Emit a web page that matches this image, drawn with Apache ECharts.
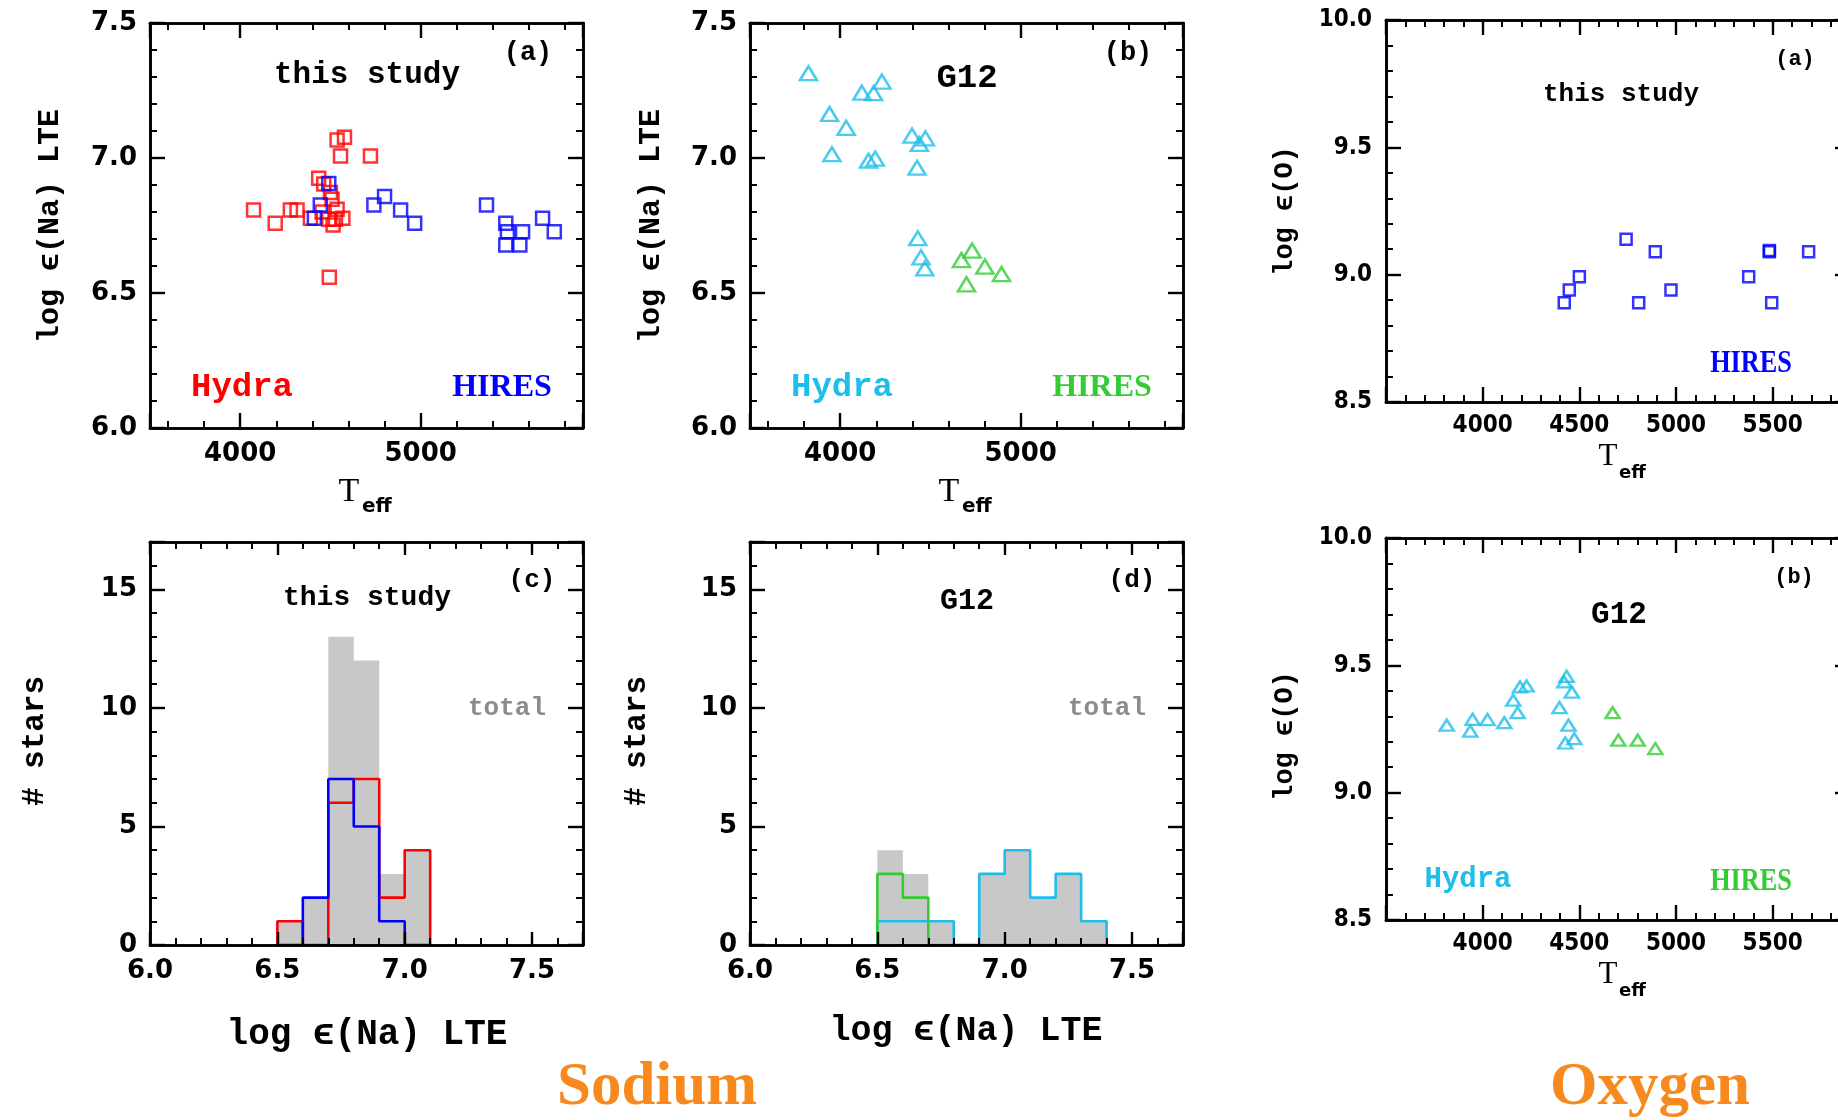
<!DOCTYPE html>
<html><head><meta charset="utf-8">
<script src="https://cdn.jsdelivr.net/npm/echarts@6/dist/echarts.min.js"></script>
<style>html,body{margin:0;padding:0;background:#fff}#c{width:1838px;height:1120px}</style>
</head><body><div id="c"></div>
<script>
// ---------------- DATA ----------------
// Sodium, this study (panel a)
const naThisHydraTeff = [4074,4194,4278,4315,4537,4578,4556,4722,4494,4389,4435,4463,4500,4509,4537,4491,4528,4569,4515,4454];
const naThisHydraNa   = [6.807,6.758,6.807,6.807,7.067,7.077,7.007,7.007,6.558,6.777,6.925,6.904,6.872,6.847,6.810,6.773,6.773,6.777,6.752,6.800];
const naThisHiresTeff = [4491,4444,4411,4741,4800,4889,4967,5365,5472,5481,5565,5472,5550,5676,5741];
const naThisHiresNa   = [6.906,6.826,6.777,6.826,6.857,6.807,6.758,6.826,6.758,6.727,6.727,6.678,6.678,6.777,6.727];
// Sodium, G12 (panel b)
const naG12HydraTeff = [3824,4120,4231,4185,3941,4033,3954,4157,4194,4398,4472,4439,4426,4430,4448,4469];
const naG12HydraNa   = [7.314,7.242,7.283,7.240,7.163,7.112,7.014,6.990,6.998,7.083,7.073,7.052,6.964,6.703,6.632,6.591];
const naG12HiresTeff = [4672,4731,4802,4894,4700];
const naG12HiresNa   = [6.622,6.657,6.598,6.570,6.532];
// Histograms (bins of 0.1 dex starting at 6.5)
const binStart = 6.5, binWidth = 0.1;
const thisTotal = [1,2,13,12,3,4];
const thisHydra = [1,0,6,7,2,4];
const thisHires = [0,2,7,5,1,0];
const g12Total  = [4,3,1,0,3,4,2,3,1];
const g12Hydra  = [1,1,1,0,3,4,2,3,1];
const g12Hires  = [3,2,0,0,0,0,0,0,0];
// Oxygen, this study (HIRES)
const oThisHiresTeff = [4422,4448,4500,4742,4807,4893,4974,5376,5483,5483,5495,5686];
const oThisHiresO    = [8.890,8.940,8.992,9.139,8.890,9.090,8.940,8.992,9.090,9.095,8.890,9.090];
// Oxygen, G12
const oG12HydraTeff = [3814,3948,3936,4025,4112,4158,4181,4193,4227,4397,4434,4422,4461,4444,4427,4474];
const oG12HydraO    = [9.265,9.288,9.242,9.287,9.275,9.363,9.314,9.415,9.419,9.334,9.457,9.435,9.395,9.265,9.195,9.212];
const oG12HiresTeff = [4672,4702,4802,4893];
const oG12HiresO    = [9.314,9.206,9.206,9.173];
// Tick labels
const naTeffTicks  = ['4000','5000'];
const naAbundTicks = ['6.0','6.5','7.0','7.5'];
const histXTicks   = ['6.0','6.5','7.0','7.5'];
const histYTicks   = ['0','5','10','15'];
const oTeffTicks   = ['4000','4500','5000','5500'];
const oAbundTicks  = ['8.5','9.0','9.5','10.0'];

// ---------------- STYLE ----------------
const RED='#ff0000', BLUE='#0000ff', CYAN='#1ebeea', GREEN='#33cc33', GRAY='#c8c8c8', TOTAL='#8c8c8c', ORANGE='#f7891f';
const MONO='"Liberation Mono","DejaVu Sans Mono",monospace';
const SERIF='"Liberation Serif","DejaVu Serif",serif';
const SANS='"DejaVu Sans",sans-serif';
const SANSC='"DejaVu Sans Condensed","DejaVu Sans",sans-serif';

const grids = [
  {left:150, top:23, width:433, height:405},
  {left:750, top:23, width:433, height:405},
  {left:150, top:542, width:433, height:403},
  {left:750, top:542, width:433, height:403},
  {left:1386, top:20, width:464, height:382},
  {left:1386, top:538, width:464, height:382}
].map(g => Object.assign(g, {outerBoundsMode:'none', containLabel:false}));

function fmtFrom(list, dec){ return v => { const s = v.toFixed(dec); return list.includes(s) ? s : ''; }; }

const naX  = {min:3500,max:5900,major:1000,minor:200,nice:true,majLen:15,minLen:7,fs:26,font:SANS,margin:13,fmt:fmtFrom(naTeffTicks,0)};
const naY  = {min:6.0,max:7.5,major:0.5,minor:0.1,majLen:15,minLen:7,fs:26,font:SANS,margin:13,fmt:fmtFrom(naAbundTicks,1)};
const hX   = {min:6.0,max:7.7,major:0.5,minor:0.1,majLen:13,minLen:7,fs:26,font:SANS,margin:13,fmt:fmtFrom(histXTicks,1)};
const hY   = {min:0,max:17,major:5,minor:1,majLen:15,minLen:7,fs:26,font:SANS,margin:13,fmt:fmtFrom(histYTicks,0)};
const oX   = {min:3500,max:5900,major:500,minor:100,majLen:15,minLen:7,fs:24,font:SANSC,margin:12,fmt:fmtFrom(oTeffTicks,0)};
const oY   = {min:8.5,max:10.0,major:0.5,minor:0.1,majLen:15,minLen:7,fs:24,font:SANSC,margin:14,fmt:fmtFrom(oAbundTicks,1)};

function mkAxis(gi, pos, cfg, major, showLabel){
  const a = {type:'value', gridIndex:gi, position:pos, min:cfg.min, max:cfg.max, z:10,
    axisLine:{show:true, onZero:false, lineStyle:{color:'#000', width:2.6}},
    axisTick:{show:true, inside:true, length: major?cfg.majLen:cfg.minLen, lineStyle:{color:'#000', width: major?2.4:2}},
    splitLine:{show:false}, minorTick:{show:false}};
  const step = major?cfg.major:cfg.minor;
  if (cfg.nice){ a.minInterval=step; a.maxInterval=step; a.splitNumber=Math.round((cfg.max-cfg.min)/step); }
  else a.interval=step;
  a.axisLabel = showLabel ? {show:true, margin:cfg.margin, color:'#000', fontFamily:cfg.font, fontWeight:'bold', fontSize:cfg.fs, formatter:cfg.fmt, hideOverlap:false} : {show:false};
  return a;
}

const axCfg = [[naX,naY],[naX,naY],[hX,hY],[hX,hY],[oX,oY],[oX,oY]];
const xAxes=[], yAxes=[];
axCfg.forEach(([xc,yc],gi)=>{
  xAxes.push(mkAxis(gi,'bottom',xc,true,true), mkAxis(gi,'bottom',xc,false,false), mkAxis(gi,'top',xc,true,false), mkAxis(gi,'top',xc,false,false));
  yAxes.push(mkAxis(gi,'left',yc,true,true), mkAxis(gi,'left',yc,false,false), mkAxis(gi,'right',yc,true,false), mkAxis(gi,'right',yc,false,false));
});

const zip=(a,b)=>a.map((v,i)=>[v,b[i]]);
function scatter(gi, xs, ys, color, symbol, size){
  return {type:'scatter', xAxisIndex:4*gi, yAxisIndex:4*gi, data:zip(xs,ys), symbol:symbol, symbolSize:size,
    itemStyle:{color:'rgba(0,0,0,0)', borderColor:color, borderWidth:2.5}, z:5, silent:true};
}
function stepData(counts){
  const d=[[binStart,0]];
  counts.forEach((c,i)=>d.push([+(binStart+(i+1)*binWidth).toFixed(2), c]));
  d.push([+(binStart+counts.length*binWidth).toFixed(2), 0]);
  return d;
}
function histArea(gi, counts){
  return {type:'line', step:'start', xAxisIndex:4*gi, yAxisIndex:4*gi, data:stepData(counts), showSymbol:false, symbol:'none',
    lineStyle:{width:0, opacity:0}, areaStyle:{color:GRAY, opacity:1}, z:1, silent:true};
}
function histLine(gi, counts, color, z){
  return {type:'line', step:'start', xAxisIndex:4*gi, yAxisIndex:4*gi, data:stepData(counts), showSymbol:false, symbol:'none',
    lineStyle:{width:2.6, color:color}, z:z, silent:true};
}

const series = [
  scatter(0, naThisHydraTeff, naThisHydraNa, RED, 'rect', 13),
  scatter(0, naThisHiresTeff, naThisHiresNa, BLUE, 'rect', 13),
  scatter(1, naG12HydraTeff, naG12HydraNa, CYAN, 'triangle', [17,14]),
  scatter(1, naG12HiresTeff, naG12HiresNa, GREEN, 'triangle', [17,14]),
  histArea(2, thisTotal), histLine(2, thisHydra, RED, 3), histLine(2, thisHires, BLUE, 4),
  histArea(3, g12Total), histLine(3, g12Hydra, CYAN, 3), histLine(3, g12Hires, GREEN, 4),
  scatter(4, oThisHiresTeff, oThisHiresO, BLUE, 'rect', 11),
  scatter(5, oG12HydraTeff, oG12HydraO, CYAN, 'triangle', [14,11]),
  scatter(5, oG12HiresTeff, oG12HiresO, GREEN, 'triangle', [14,11])
];

function T(text, x, y, size, family, color, opts){
  opts = opts || {};
  const el = {type:'text', x:x, y:y, z:100, silent:true,
    style:{text:text, fontSize:size, fontFamily:family, fontWeight:opts.weight||'bold', fill:color||'#000',
      align:opts.align||'center', textAlign:opts.align||'center', verticalAlign:'middle', textVerticalAlign:'middle'}};
  if (opts.rot) el.rotation = opts.rot;
  if (opts.sx) el.scaleX = opts.sx;
  return el;
}
const R90 = Math.PI/2;
function teff(tx, ty, ex, ey, ts, es){
  return [T('T', tx, ty, ts, SERIF, '#000', {weight:'normal'}), T('eff', ex, ey, es, SANS, '#000', {align:'left'})];
}

const graphics = [
  // Na panel (a)
  T('(a)', 528, 53, 27, MONO), T('this study', 367, 75, 31, MONO),
  T('Hydra', 242, 387, 34, MONO, RED), T('HIRES', 502, 388, 32, SERIF, BLUE),
  T('log ϵ(Na) LTE', 50, 226, 30, MONO, '#000', {rot:R90}),
  ...teff(349, 492, 362, 507, 34, 20),
  // Na panel (b)
  T('(b)', 1128, 53, 27, MONO), T('G12', 967, 78, 34, MONO),
  T('Hydra', 842, 387, 34, MONO, CYAN), T('HIRES', 1102, 388, 32, SERIF, GREEN),
  T('log ϵ(Na) LTE', 651, 226, 30, MONO, '#000', {rot:R90}),
  ...teff(949, 492, 962, 507, 34, 20),
  // Na panel (c)
  T('(c)', 532, 580, 26, MONO), T('this study', 367, 598, 28, MONO), T('total', 507, 708, 26, MONO, TOTAL),
  T('# stars', 35, 741, 31, MONO, '#000', {rot:R90}),
  T('log ϵ(Na) LTE', 367, 1035, 36, MONO),
  // Na panel (d)
  T('(d)', 1132, 580, 26, MONO), T('G12', 967, 601, 30, MONO), T('total', 1107, 708, 26, MONO, TOTAL),
  T('# stars', 637, 741, 31, MONO, '#000', {rot:R90}),
  T('log ϵ(Na) LTE', 966, 1031, 35, MONO),
  // O panel (a)
  T('(a)', 1795, 59, 22, MONO), T('this study', 1621, 94, 26, MONO),
  T('HIRES', 1751, 364, 32, SERIF, BLUE, {sx:0.82}),
  T('log ϵ(O)', 1285, 211, 27, MONO, '#000', {rot:R90}),
  ...teff(1608, 457, 1619, 473, 31, 18),
  // O panel (b)
  T('(b)', 1794, 577, 22, MONO), T('G12', 1619, 615, 31, MONO),
  T('Hydra', 1468, 880, 29, MONO, CYAN), T('HIRES', 1751, 882, 32, SERIF, GREEN, {sx:0.82}),
  T('log ϵ(O)', 1285, 736, 27, MONO, '#000', {rot:R90}),
  ...teff(1608, 975, 1619, 991, 31, 18),
  // Section titles
  T('Sodium', 657, 1088, 61, SERIF, ORANGE),
  T('Oxygen', 1650, 1088, 61, SERIF, ORANGE)
];

const chart = echarts.init(document.getElementById('c'), null, {renderer:'canvas'});
chart.setOption({
  animation:false, backgroundColor:'#fff',
  grid: grids, xAxis: xAxes, yAxis: yAxes, series: series, graphic: graphics
});
</script>
</body></html>
